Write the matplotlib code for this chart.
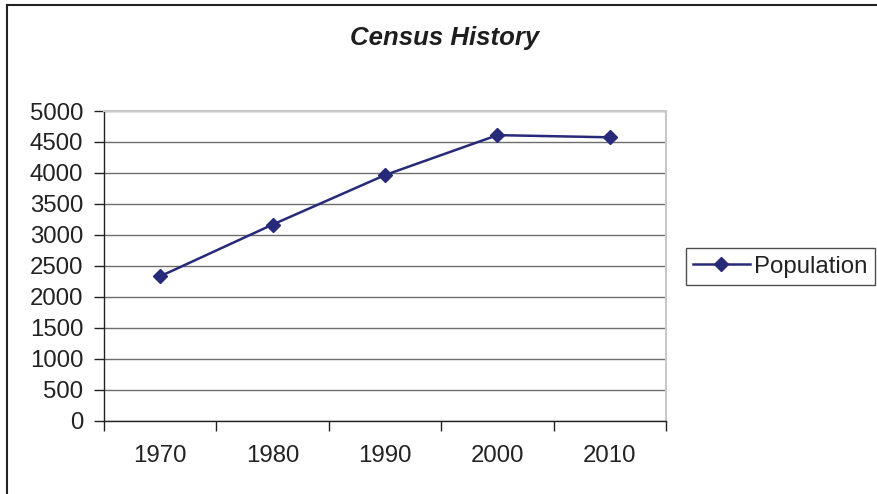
import matplotlib.pyplot as plt
from matplotlib.lines import Line2D

# census counts by decade
years = ['1970', '1980', '1990', '2000', '2010']
population = [2330, 3165, 3965, 4610, 4575]
yticks = [0, 500, 1000, 1500, 2000, 2500, 3000, 3500, 4000, 4500, 5000]

navy = '#262a78'
plt.rcParams['font.family'] = ['Liberation Sans', 'DejaVu Sans']
fs = 17.3

fig = plt.figure(figsize=(8.78, 4.94), dpi=100)
ax = fig.add_axes([104 / 878, 1 - 420.5 / 494, 562 / 878, 309.5 / 494])

x = list(range(len(years)))
ax.plot(x, population, color=navy, lw=1.8, marker='D', ms=7.6,
        mfc=navy, mec=navy, label='Population', zorder=3)

ax.set_xlim(-0.5, len(years) - 0.5)
ax.set_ylim(0, 5000)
ax.set_yticks(yticks)
ax.set_yticklabels([str(v) for v in yticks])

# category labels sit between the boundary ticks
ax.set_xticks([i - 0.5 for i in range(len(years) + 1)])
ax.set_xticklabels([''] * (len(years) + 1))
ax.set_xticks(x, minor=True)
ax.set_xticklabels(years, minor=True)
ax.tick_params(axis='x', which='major', length=7, width=1, color='#222222', direction='out')
ax.tick_params(axis='x', which='minor', length=0, pad=18, labelsize=fs, labelcolor='#222222')
ax.tick_params(axis='y', length=7, width=1, color='#222222', pad=8, labelsize=fs,
               labelcolor='#222222')

ax.grid(axis='y', color='#6e6e6e', lw=1)
ax.set_axisbelow(True)
for side in ['top', 'right']:
    ax.spines[side].set_color('#c8c8c8')
    ax.spines[side].set_linewidth(1.5)
for side in ['left', 'bottom']:
    ax.spines[side].set_color('#222222')
    ax.spines[side].set_linewidth(1)

fig.text(445 / 878, 1 - 38 / 494, 'Census History', ha='center', va='center',
         fontsize=18.5, fontweight='bold', fontstyle='italic', color='#1e1e1e')

leg = fig.legend(loc='center left', bbox_to_anchor=(686 / 878, 1 - 266.5 / 494),
                 fontsize=fs, frameon=True, fancybox=False, borderpad=0.3,
                 handlelength=2.35, handletextpad=0.2, borderaxespad=0)
leg.get_frame().set_edgecolor('#222222')
leg.get_frame().set_linewidth(1)
for t in leg.get_texts():
    t.set_color('#222222')

# outer chart frame: top and left edges
fig.add_artist(Line2D([7.5 / 878, 1], [1 - 5 / 494, 1 - 5 / 494], color='#222222', lw=1.5))
fig.add_artist(Line2D([7.5 / 878, 7.5 / 878], [0, 1 - 5 / 494], color='#222222', lw=1.5))

fig.savefig('out.png', dpi=100)
